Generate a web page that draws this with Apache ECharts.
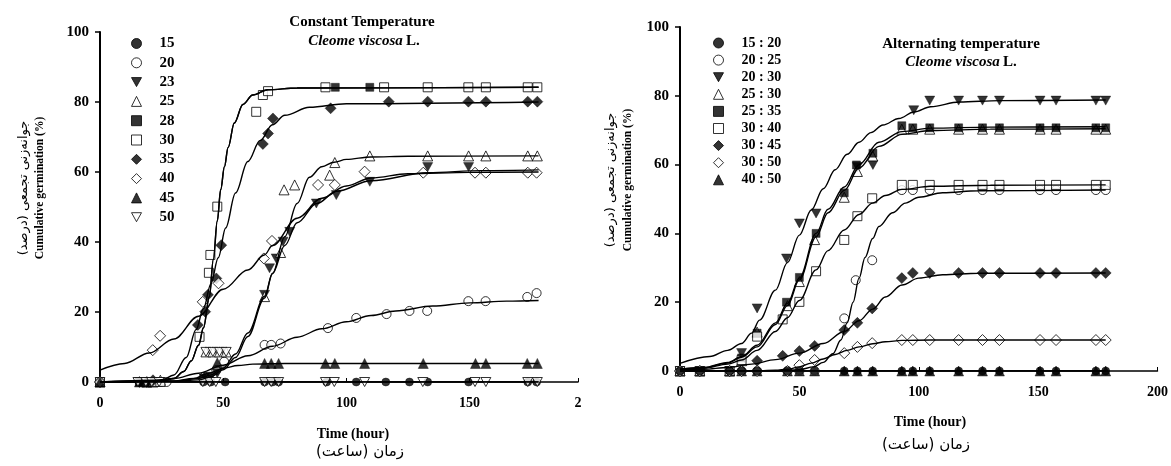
<!DOCTYPE html>
<html dir="ltr">
<head>
<meta charset="utf-8">
<script src="https://cdn.jsdelivr.net/npm/echarts@6/dist/echarts.min.js"></script>
<style>
html, body { margin: 0; padding: 0; background: #fff; }
#main { width: 1171px; height: 466px; }
</style>
</head>
<body>
<div id="main"></div>
<script>
// ---------- data: constant temperature (left panel) ----------
var ctNames = ['15', '20', '23', '25', '28', '30', '35', '40', '45', '50'];

var ct15 = [[0,0],[16,0],[19,0],[21.5,0],[24.5,0],[42,0],[45,0],[50.8,0],[66.8,0],[70,0],[72.5,0],[92,0],[104,0],[116,0],[125.6,0],[133,0],[149.6,0],[173.6,0],[177.2,0]];
var ct15Fit = [[0,0],[178,0]];

var ct20 = [[0,0],[21.5,0],[24.5,0],[27,0],[42.3,1.5],[47.2,3.4],[50.4,5.8],[66.8,10.6],[69.5,10.6],[73.3,11],[92.5,15.4],[104,18.3],[116.3,19.4],[125.6,20.3],[132.8,20.3],[149.5,23.1],[156.5,23.1],[173.4,24.3],[177.2,25.4]];
var ct20Fit = [[0,0],[20,0.3],[30,1],[40,2.5],[50,4.8],[60,7.5],[70,10.2],[80,12.8],[90,15.2],[100,17.2],[110,19],[120,20.3],[135,21.7],[150,22.6],[165,23.1],[178,23.3]];

var ct23 = [[0,0],[16,0],[19,0],[42.3,1],[45,1.5],[47.6,2.5],[66.8,24.9],[68.8,32.5],[71.5,35.3],[74.3,40.1],[77,42.9],[87.8,51],[95.9,53.4],[109.5,57.2],[133,61.4],[149.6,61.4]];
var ct23Fit = [[0,0],[30,0.2],[40,0.6],[45,1.5],[50,3.5],[55,7],[60,13],[66.8,24],[70,31],[75,39],[80,45.5],[88,51],[96,54.5],[110,57.5],[133,59.8],[155,60.4],[178,60.6]];

var ct25 = [[0,0],[19,0],[21.5,0],[24.5,0.5],[43,8.6],[45.8,8.6],[48.5,8.6],[51.2,8.6],[66.8,24.4],[73.3,37],[74.7,54.9],[79,56.3],[93.2,59.1],[95.3,62.7],[109.5,64.6],[133,64.6],[149.6,64.6],[156.6,64.6],[173.6,64.6],[177.5,64.6]];
var ct25Fit = [[0,0],[30,0.2],[40,1],[45,2],[50,4],[55,8],[60,14],[66.8,24.5],[70,31],[75,41.5],[80,51],[85,58.5],[90,61.5],[95,62.8],[100,63.6],[110,64.3],[125,64.5],[178,64.6]];

var ct28 = [[0,0],[16,0],[19,0],[21.5,0],[95.5,84.2],[109.5,84.2]];
var ct28Fit = [[0,0],[25,0.3],[30,1],[34,3],[37,6],[40,10.5],[42,15.5],[44.4,24.4],[46,35],[47.6,46],[49,55],[50.5,61.5],[52,67],[54.5,74],[58,79.3],[62,82],[68,83.5],[80,84],[178,84.2]];

var ct30 = [[0,0],[19,0],[21.5,0],[24.5,0],[40.4,12.9],[44.2,31.2],[44.8,36.3],[47.6,50.1],[63.4,77.2],[66.1,82],[68.2,83.1],[91.5,84.2],[115.3,84.2],[133,84.2],[149.5,84.2],[156.6,84.2],[173.6,84.2],[177.5,84.2]];
var ct30Fit = [[0,0],[25,0.3],[30,1],[34,3],[37,6],[40,10.5],[42,15.5],[44.4,24.4],[46,35],[47.6,46],[49,55],[50.5,61.5],[52,67],[54.5,74],[58,79.3],[62,82],[68,83.5],[80,84],[178,84.2]];

var ct35 = [[0,0],[16,0],[19,0],[21.5,0.5],[39.7,16.3],[42.7,20.1],[43.8,24.9],[47.2,29.6],[49.2,39.1],[66.1,68],[68.2,71],[70.2,75.3],[93.6,78.2],[117.2,80.1],[133,80.1],[149.5,80.1],[156.6,80.1],[173.6,80.1],[177.5,80.1]];
var ct35Fit = [[0,0],[25,0.5],[30,2],[35,7],[39,15],[42,21],[45,28],[48,35.5],[51,44],[55,54],[60,63],[65,69],[70,73.5],[75,76.2],[85,78.5],[100,79.5],[178,80]];

var ct40 = [[0,0],[21.4,9.1],[24.4,13.2],[41.7,22.9],[48.1,28.2],[66.5,35.3],[69.8,40.3],[88.5,56.3],[95.3,56.3],[107.4,60.1],[131.2,59.8],[152.2,59.8],[156.6,59.8],[173.6,59.8],[177.2,59.8]];
var ct40Fit = [[0,3.4],[10,5.3],[20,8.3],[30,12.3],[40,18.8],[50,26.5],[60,32],[66.7,36.3],[70,39],[80,46.8],[90,52.5],[100,56],[110,58.3],[125,59.5],[150,59.9],[178,60]];

var ct45 = [[0,0],[16,0],[19,0],[42.3,1.5],[47.6,5.5],[66.8,5.3],[69.5,5.3],[72.5,5.3],[91.5,5.3],[95.3,5.3],[107.4,5.3],[131.2,5.3],[152.4,5.3],[156.6,5.3],[173.4,5.3],[177.5,5.3]];
var ct45Fit = [[0,0],[30,0.3],[38,1],[44,2.5],[50,3.9],[56,4.7],[62,5.1],[75,5.3],[178,5.3]];

var ct50 = [[15.4,0],[18.6,0],[21,0],[24,0],[41.7,0],[44.5,0],[47,0],[43,8.6],[45.8,8.6],[48.5,8.6],[51.2,8.6],[66.8,0],[69.5,0],[72.5,0],[91.5,0],[95.1,0],[107.4,0],[131,0],[152.2,0],[156.6,0],[173.6,0],[177.5,0]];
var ct50Fit = [[0,0],[178,0]];

// ---------- data: alternating temperature (right panel) ----------
var atNames = ['15 : 20', '20 : 25', '20 : 30', '25 : 30', '25 : 35', '30 : 40', '30 : 45', '30 : 50', '40 : 50'];

var at1520 = [[0,0],[8.3,0],[20.8,0],[25.8,0],[32.3,0],[45,0],[50,0],[56.4,0],[68.8,0],[74.3,0],[80.7,0],[92.9,0],[97.5,0],[104.6,0],[116.7,0],[126.7,0],[133.8,0],[150.8,0],[157.5,0],[174.2,0],[178.3,0]];
var at1520Fit = [[0,0],[178.3,0]];

var at2025 = [[0,0],[8.3,0],[20.8,0],[25.8,0],[32.3,0],[45,0],[50,0],[56.4,0],[68.8,15.3],[73.6,26.4],[80.5,32.2],[92.9,52.6],[97.5,52.6],[104.6,52.6],[116.7,52.6],[126.7,52.6],[133.8,52.6],[150.8,52.6],[157.5,52.6],[174.2,52.6],[178.3,52.6]];
var at2025Fit = [[0,0],[40,0.1],[50,0.4],[56,1.2],[60,2.5],[64,5],[67.4,9],[70,14],[72.5,20],[75,27],[77.5,33],[80.7,38.5],[83.3,42],[89,46],[94.4,48.8],[100,50.5],[110,51.8],[125,52.4],[178.3,52.6]];

var at2030 = [[0,0],[8.3,0],[20.8,0],[25.8,5.2],[32.3,18.2],[44.6,32.7],[50,42.9],[57,45.8],[74.3,59.3],[80.8,59.9],[97.9,75.8],[104.6,78.6],[116.7,78.6],[126.7,78.6],[133.8,78.6],[150.8,78.6],[157.5,78.6],[174.2,78.6],[178.3,78.6]];
var at2030Fit = [[0,2.2],[12.5,4.2],[20,6],[25.8,8],[30,11],[33.3,14.8],[40,23.5],[45,31.5],[50,39.5],[55,46.8],[60,53],[65,58.5],[70,63],[75,66.5],[80,69.3],[85,71.5],[91.7,73.4],[98,75.3],[105,76.8],[117,78.2],[134,78.6],[178.3,78.8]];

var at2530 = [[0,0],[8.3,0],[20.8,0],[25.8,3],[32.3,11.3],[45,19],[50,26],[56.4,38.2],[68.8,50.5],[74.3,58],[80.7,62.5],[92.9,70.3],[97.5,70.3],[104.6,70.3],[116.7,70.3],[126.7,70.3],[133.8,70.3],[150.8,70.3],[157.5,70.3],[174.2,70.3],[178.3,70.3]];
var at2530Fit = [[0,0.5],[10,1],[20,2.3],[25.8,4],[32.3,7],[40,13.5],[45,19],[50,26.5],[57,39],[62,46],[68.8,52.5],[75,59],[83.3,65.3],[93,68.8],[105,69.9],[130,70.3],[178.3,70.4]];

var at2535 = [[0,0],[8.3,0],[20.8,0],[25.8,3.8],[32.3,11],[44.6,20],[50,27.2],[57,40],[68.8,51.8],[73.9,59.9],[80.8,63.3],[92.9,71.3],[97.5,70.7],[104.6,70.7],[116.7,70.7],[126.7,70.7],[133.8,70.7],[150.8,70.7],[157.5,70.7],[174.2,70.7],[178.3,70.7]];
var at2535Fit = [[0,0.5],[10,1],[20,2.5],[25.8,4.2],[32.3,7.5],[40,14],[45,19.7],[50,27],[57,40],[62,47],[68.8,53.5],[75,60],[83.3,66.5],[93,69.6],[105,70.6],[130,70.9],[178.3,71]];

var at3040 = [[0,0],[8.3,0],[20.8,0],[25.8,3.2],[32.3,10],[43,15],[50,20.1],[57,29],[68.8,38.1],[74.3,45],[80.5,50.2],[92.9,54.1],[97.5,54.1],[104.6,54.1],[116.7,54.1],[126.7,54.1],[133.8,54.1],[150.8,54.1],[157.5,54.1],[174.2,54.1],[178.3,54.1]];
var at3040Fit = [[0,0.3],[10,0.8],[20,2],[25.8,3.2],[32.3,6],[40,11.5],[45,15.5],[50,20.5],[57,29.4],[62,35],[68.8,41],[75,45.5],[80.7,48.8],[86,51],[93,52.8],[105,53.7],[130,54],[178.3,54.1]];

var at3045 = [[0,0],[8.3,0],[20.8,0],[25.8,0],[32.3,3],[43,4.4],[50,5.8],[56.4,7.3],[68.8,11.9],[74.3,14],[80.5,18.2],[92.9,27],[97.5,28.5],[104.6,28.5],[116.7,28.5],[126.7,28.5],[133.8,28.5],[150.8,28.5],[157.5,28.5],[174.2,28.5],[178.3,28.5]];
var at3045Fit = [[0,0.2],[10,0.5],[20,1],[30,2],[40,3.3],[50,5.2],[60,8],[68.8,11.5],[75,14.6],[80.7,18],[86,21.5],[93,25],[100,27],[110,28],[125,28.4],[178.3,28.5]];

var at3050 = [[0,0],[8.3,0],[20.8,0],[25.8,0],[32.3,0],[45,0],[50,1.7],[56.4,3.2],[68.8,5.2],[74.3,7],[80.5,8.1],[92.9,9],[97.5,9],[104.6,9],[116.7,9],[126.7,9],[133.8,9],[150.8,9],[157.5,9],[174.2,9],[178.3,9]];
var at3050Fit = [[0,0],[30,0],[40,0.2],[45,0.5],[50,1.2],[55,2.3],[60,3.5],[65,4.8],[70,6],[75,7],[80.7,7.9],[86,8.5],[93,8.9],[105,9],[178.3,9]];

var at4050 = [[0,0],[8.3,0],[20.8,0],[25.8,0],[32.3,0],[45,0],[50,0],[56.4,0],[68.8,0],[74.3,0],[80.7,0],[92.9,0],[97.5,0],[104.6,0],[116.7,0],[126.7,0],[133.8,0],[150.8,0],[157.5,0],[174.2,0],[178.3,0]];
var at4050Fit = [[0,0],[178.3,0]];

var yTicks = [0, 20, 40, 60, 80, 100];

// ---------- marker styles ----------
var DOWN = 'path://M0,0L10,0L5,9Z';
var mk = {
    fc: { symbol: 'circle', size: 8, open: false },
    oc: { symbol: 'circle', size: 9, open: true },
    fd: { symbol: DOWN, size: 10, open: false },
    ot: { symbol: 'triangle', size: 10, open: true },
    fs: { symbol: 'rect', size: 8, open: false },
    os: { symbol: 'rect', size: 9, open: true },
    fm: { symbol: 'diamond', size: 11, open: false },
    om: { symbol: 'diamond', size: 11, open: true },
    ft: { symbol: 'triangle', size: 10, open: false },
    od: { symbol: DOWN, size: 10, open: true }
};

// draw order (later drawn on top)
var leftDefs = [
    [ctNames[0], ct15, ct15Fit, mk.fc],
    [ctNames[1], ct20, ct20Fit, mk.oc],
    [ctNames[2], ct23, ct23Fit, mk.fd],
    [ctNames[3], ct25, ct25Fit, mk.ot],
    [ctNames[4], ct28, ct28Fit, mk.fs],
    [ctNames[5], ct30, ct30Fit, mk.os],
    [ctNames[6], ct35, ct35Fit, mk.fm],
    [ctNames[7], ct40, ct40Fit, mk.om],
    [ctNames[8], ct45, ct45Fit, mk.ft],
    [ctNames[9], ct50, ct50Fit, mk.od]
];
var rightDefs = [
    [atNames[8], at4050, at4050Fit, mk.ft],
    [atNames[1], at2025, at2025Fit, mk.oc],
    [atNames[2], at2030, at2030Fit, mk.fd],
    [atNames[3], at2530, at2530Fit, mk.ot],
    [atNames[4], at2535, at2535Fit, mk.fs],
    [atNames[5], at3040, at3040Fit, mk.os],
    [atNames[6], at3045, at3045Fit, mk.fm],
    [atNames[7], at3050, at3050Fit, mk.om],
    [atNames[0], at1520, at1520Fit, mk.fc]
];

var series = [];
function addSeries(defs, idx) {
    defs.forEach(function (d) {
        var m = d[3];
        series.push({
            name: d[0],
            type: 'scatter',
            xAxisIndex: idx,
            yAxisIndex: idx,
            data: d[1],
            symbol: m.symbol,
            symbolSize: m.size,
            symbolKeepAspect: true,
            itemStyle: m.open
                ? { color: '#fff', borderColor: '#000', borderWidth: 1 }
                : { color: '#000', borderColor: '#000', borderWidth: 0.5 },
            z: 2,
            silent: true
        });
        series.push({
            name: d[0] + ' fit',
            type: 'line',
            xAxisIndex: idx,
            yAxisIndex: idx,
            data: d[2],
            smooth: 0.35,
            smoothMonotone: 'x',
            symbol: 'none',
            lineStyle: { color: '#000', width: 1.4 },
            z: 3,
            silent: true
        });
    });
}
addSeries(leftDefs, 0);
addSeries(rightDefs, 1);

var serif = '"Liberation Serif", "Times New Roman", serif';
var persian = '"DejaVu Sans", sans-serif';

function xAxisCfg(gi, max, fmt) {
    return {
        gridIndex: gi, type: 'value', min: 0, max: max, interval: 50,
        axisLine: { show: true, onZero: false, lineStyle: { color: '#000', width: 1.5 } },
        axisTick: { show: true, inside: true, length: 4, lineStyle: { color: '#000', width: 1 } },
        axisLabel: { color: '#000', fontFamily: serif, fontWeight: 'bold', fontSize: 14, margin: 14, formatter: fmt },
        splitLine: { show: false }
    };
}
function yAxisCfg(gi) {
    return {
        gridIndex: gi, type: 'value', min: yTicks[0], max: yTicks[yTicks.length - 1], interval: 20,
        axisLine: { show: true, lineStyle: { color: '#000', width: 2 } },
        axisTick: { show: true, length: 5, lineStyle: { color: '#000', width: 1.5 } },
        axisLabel: { color: '#000', fontFamily: serif, fontWeight: 'bold', fontSize: 15, margin: 11 },
        splitLine: { show: false }
    };
}
function legendCfg(names, left, gap, size) {
    return {
        data: names, orient: 'vertical', left: left, top: 36, padding: 0,
        itemWidth: 10, itemHeight: 10, itemGap: gap, selectedMode: false,
        symbolKeepAspect: true,
        itemStyle: { borderWidth: 1 },
        textStyle: { fontFamily: serif, fontWeight: 'bold', fontSize: size, lineHeight: size, color: '#000', padding: [0, 0, 0, 13] }
    };
}

function txt(x, y, text, font, rot) {
    return {
        type: 'text', x: x, y: y, rotation: rot || 0, silent: true,
        style: {
            text: text, font: font, fill: '#000',
            align: 'center', verticalAlign: 'middle',
            textAlign: 'center', textVerticalAlign: 'middle'
        }
    };
}
function species(x, y) {
    return {
        type: 'text', x: x, y: y, silent: true,
        style: {
            text: '{i|Cleome viscosa} {b|L.}',
            align: 'center', verticalAlign: 'middle',
            textAlign: 'center', textVerticalAlign: 'middle',
            rich: {
                i: { fontFamily: serif, fontWeight: 'bold', fontStyle: 'italic', fontSize: 15, fill: '#000' },
                b: { fontFamily: serif, fontWeight: 'bold', fontSize: 15, fill: '#000' }
            }
        }
    };
}

var dom = document.getElementById('main');
var myChart = echarts.init(dom);

var option = {
    animation: false,
    backgroundColor: '#fff',
    grid: [
        { left: 100, right: 593, top: 32, bottom: 84 },
        { left: 680, right: 11, top: 27, bottom: 95 }
    ],
    xAxis: [
        xAxisCfg(0, 194, function (v) { return v % 50 === 0 ? String(v) : '2'; }),
        xAxisCfg(1, 200)
    ],
    yAxis: [yAxisCfg(0), yAxisCfg(1)],
    legend: [
        legendCfg(ctNames, 131, 4.3, 15),
        legendCfg(atNames, 713, 3.1, 14)
    ],
    graphic: [
        txt(362, 22, 'Constant Temperature', 'bold 15px ' + serif),
        species(364, 41),
        txt(24, 188, 'جوانه‌زنی تجمعی (درصد)', '13px ' + persian, Math.PI / 2),
        txt(40, 188, 'Cumulative germination (%)', 'bold 11.5px ' + serif, Math.PI / 2),
        txt(353, 434, 'Time (hour)', 'bold 14px ' + serif),
        txt(360, 452, 'زمان (ساعت)', '15px ' + persian),

        txt(961, 44, 'Alternating temperature', 'bold 15px ' + serif),
        species(961, 62),
        txt(611, 180, 'جوانه‌زنی تجمعی (درصد)', '13px ' + persian, Math.PI / 2),
        txt(628, 180, 'Cumulative germination (%)', 'bold 11.5px ' + serif, Math.PI / 2),
        txt(930, 422, 'Time (hour)', 'bold 14px ' + serif),
        txt(926, 445, 'زمان (ساعت)', '15px ' + persian)
    ],
    series: series
};

if (option && typeof option === 'object') {
    myChart.setOption(option, true);
    window.onresize = function () {
        myChart.resize();
    };
}
</script>
</body>
</html>
